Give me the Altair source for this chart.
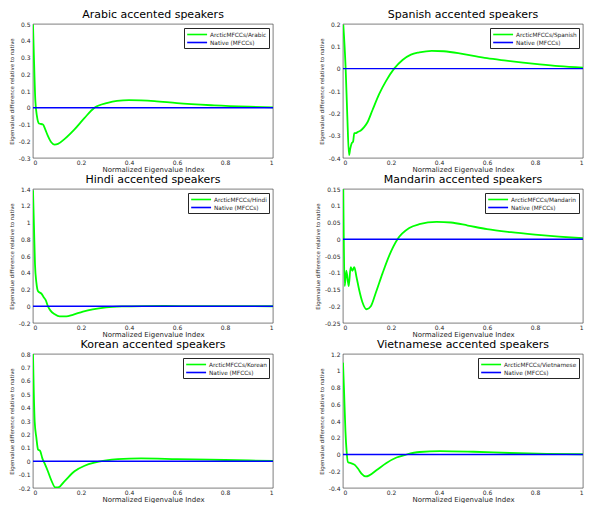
import altair as alt
import pandas as pd

LANGS = ["Arabic", "Spanish", "Hindi", "Mandarin", "Korean", "Vietnamese"]
NATIVE_LABEL = "Native (MFCCs)"
NATIVE_X = [0.0, 1.0]
NATIVE_Y = [0.0, 0.0]
XTICKS = [0, 0.2, 0.4, 0.6, 0.8, 1]

X_ARABIC = [0.0, 0.004, 0.0097, 0.0166, 0.0249, 0.0415, 0.051, 0.062, 0.076, 0.09, 0.104,
            0.131, 0.173, 0.214, 0.256, 0.311, 0.35, 0.40, 0.506, 0.60, 0.755, 0.90, 1.0]
Y_ARABIC = [0.497, 0.295, 0.044, -0.052, -0.094, -0.100, -0.129, -0.168, -0.206, -0.220, -0.216,
            -0.187, -0.129, -0.062, 0.0, 0.029, 0.041, 0.046, 0.040, 0.027, 0.014, 0.006, 0.002]
YT_ARABIC = [-0.3, -0.2, -0.1, 0, 0.1, 0.2, 0.3, 0.4, 0.5]

X_SPANISH = [0.0012, 0.011, 0.018, 0.0251, 0.030, 0.036, 0.042, 0.047, 0.053, 0.061, 0.074,
             0.088, 0.102, 0.123, 0.151, 0.179, 0.213, 0.248, 0.283, 0.318, 0.37, 0.42, 0.48,
             0.55, 0.60, 0.68, 0.75, 0.82, 0.90, 1.0]
Y_SPANISH = [0.197, 0.002, -0.214, -0.387, -0.359, -0.334, -0.327, -0.289, -0.289, -0.284, -0.277,
             -0.262, -0.240, -0.185, -0.113, -0.056, 0.0, 0.039, 0.063, 0.073, 0.080, 0.078, 0.070,
             0.056, 0.047, 0.036, 0.027, 0.019, 0.011, 0.004]
YT_SPANISH = [-0.4, -0.3, -0.2, -0.1, 0, 0.1, 0.2]

X_HINDI = [0.0, 0.004, 0.0083, 0.014, 0.021, 0.035, 0.044, 0.053, 0.062, 0.073, 0.09, 0.111,
           0.139, 0.166, 0.208, 0.249, 0.305, 0.374, 0.457, 0.55, 0.65, 0.80, 1.0]
Y_HINDI = [1.385, 0.96, 0.50, 0.285, 0.18, 0.15, 0.111, 0.072, 0.002, -0.052, -0.094, -0.122,
           -0.122, -0.102, -0.064, -0.036, -0.013, -0.002, 0.002, 0.003, 0.002, 0.001, 0.0]
YT_HINDI = [-0.2, 0, 0.2, 0.4, 0.6, 0.8, 1, 1.2, 1.4]

X_MANDARIN = [0.0012, 0.007, 0.0139, 0.0237, 0.032, 0.039, 0.047, 0.0558, 0.067, 0.081, 0.098,
              0.116, 0.137, 0.165, 0.193, 0.227, 0.276, 0.318, 0.39, 0.45, 0.52, 0.60, 0.70,
              0.80, 0.90, 1.0]
Y_MANDARIN = [0.149, -0.140, -0.094, -0.140, -0.083, -0.094, -0.083, -0.111, -0.150, -0.188, -0.209,
              -0.200, -0.159, -0.101, -0.048, 0.0, 0.0335, 0.0449, 0.052, 0.050, 0.041, 0.030, 0.021,
              0.014, 0.008, 0.003]
YT_MANDARIN = [-0.25, -0.2, -0.15, -0.1, -0.05, 0, 0.05, 0.1, 0.15]

X_KOREAN = [0.0, 0.003, 0.007, 0.014, 0.021, 0.030, 0.039, 0.048, 0.062, 0.076, 0.093, 0.104,
            0.132, 0.173, 0.215, 0.256, 0.298, 0.353, 0.45, 0.60, 0.80, 1.0]
Y_KOREAN = [0.80, 0.536, 0.296, 0.176, 0.088, 0.076, 0.021, -0.015, -0.075, -0.141, -0.196, -0.196,
            -0.148, -0.075, -0.034, -0.011, 0.004, 0.016, 0.021, 0.016, 0.009, 0.002]
YT_KOREAN = [-0.2, -0.1, 0, 0.1, 0.2, 0.3, 0.4, 0.5, 0.6, 0.7, 0.8]

X_VIET = [0.0, 0.004, 0.010, 0.015, 0.021, 0.035, 0.049, 0.063, 0.077, 0.095, 0.111, 0.139,
          0.181, 0.223, 0.265, 0.32, 0.404, 0.543, 0.696, 0.85, 1.0]
Y_VIET = [1.097, 0.79, 0.29, 0.041, -0.093, -0.105, -0.124, -0.170, -0.228, -0.262, -0.247, -0.189,
          -0.101, -0.036, 0.0, 0.030, 0.041, 0.033, 0.018, 0.007, 0.003]
YT_VIET = [-0.4, -0.2, 0, 0.2, 0.4, 0.6, 0.8, 1, 1.2]

SERIES = {
    "Arabic": (X_ARABIC, Y_ARABIC, YT_ARABIC),
    "Spanish": (X_SPANISH, Y_SPANISH, YT_SPANISH),
    "Hindi": (X_HINDI, Y_HINDI, YT_HINDI),
    "Mandarin": (X_MANDARIN, Y_MANDARIN, YT_MANDARIN),
    "Korean": (X_KOREAN, Y_KOREAN, YT_KOREAN),
    "Vietnamese": (X_VIET, Y_VIET, YT_VIET),
}

LABEL_EXPR = "replace(format(datum.value, '~g'), '\u2212', '-')"


def panel(lang):
    xs, ys, yt = SERIES[lang]
    g_label = f"ArcticMFCCs/{lang}"
    df_g = pd.DataFrame({"x": xs, "y": ys, "series": g_label})
    df_b = pd.DataFrame({"x": NATIVE_X, "y": NATIVE_Y, "series": NATIVE_LABEL})
    xenc = alt.X("x:Q", scale=alt.Scale(domain=[0, 1], nice=False),
                 axis=alt.Axis(values=XTICKS, title="Normalized Eigenvalue Index",
                               labelExpr=LABEL_EXPR))
    yenc = alt.Y("y:Q", scale=alt.Scale(domain=[min(yt), max(yt)], nice=False, zero=False),
                 axis=alt.Axis(values=yt, title="Eigenvalue difference relative to native",
                               labelExpr=LABEL_EXPR))
    cenc = alt.Color("series:N",
                     scale=alt.Scale(domain=[g_label, NATIVE_LABEL], range=["#00FF00", "#0000FF"]),
                     legend=alt.Legend(title=None, orient="top-right", offset=4,
                                       strokeColor="#262626", fillColor="white", padding=2,
                                       labelFontSize=5.8, labelColor="#262626",
                                       symbolType="M-1,0H5", symbolSize=44,
                                       symbolStrokeWidth=1.6, labelOffset=15,
                                       rowPadding=0))
    green = alt.Chart(df_g).mark_line(clip=True, strokeWidth=1.8, interpolate="monotone").encode(
        x=xenc, y=yenc, color=cenc)
    blue = alt.Chart(df_b).mark_line(clip=True, strokeWidth=1.4).encode(x=xenc, y=yenc, color=cenc)
    return alt.layer(green, blue).properties(
        width=240, height=134,
        title=alt.TitleParams(f"{lang} accented speakers", fontSize=11, offset=1,
                              fontWeight="normal", color="black", anchor="middle"))


chart = alt.concat(*[panel(l) for l in LANGS], columns=2,
                   spacing={"row": 31, "column": 70}, bounds="flush").resolve_scale(
    x="independent", y="independent", color="independent").properties(
    padding=0).configure(
    font="DejaVu Sans").configure_view(stroke="#262626", strokeWidth=0.6).configure_axis(
    ticks=False, domain=False, grid=False, labelFontSize=6, labelColor="#262626",
    titleColor="#262626", titleFontWeight="normal").configure_axisX(
    titleFontSize=7, labelPadding=1, titlePadding=0).configure_axisY(
    titleFontSize=5.4, labelPadding=3, titlePadding=4)

chart.save("out.html", embed_options={"renderer": "svg", "actions": False})
